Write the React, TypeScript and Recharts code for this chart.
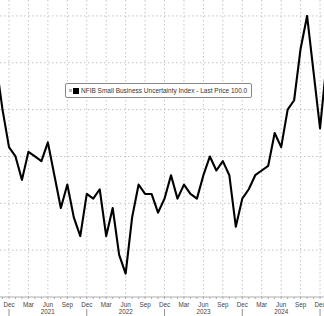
import React from 'react';
import { LineChart, Line, XAxis, YAxis, CartesianGrid } from 'recharts';

// monthly readings, Oct 2020 .. Jan 2025
const months = [
  'Oct 20', 'Nov 20', 'Dec 20',
  'Jan 21', 'Feb 21', 'Mar 21', 'Apr 21', 'May 21', 'Jun 21', 'Jul 21', 'Aug 21', 'Sep 21', 'Oct 21', 'Nov 21', 'Dec 21',
  'Jan 22', 'Feb 22', 'Mar 22', 'Apr 22', 'May 22', 'Jun 22', 'Jul 22', 'Aug 22', 'Sep 22', 'Oct 22', 'Nov 22', 'Dec 22',
  'Jan 23', 'Feb 23', 'Mar 23', 'Apr 23', 'May 23', 'Jun 23', 'Jul 23', 'Aug 23', 'Sep 23', 'Oct 23', 'Nov 23', 'Dec 23',
  'Jan 24', 'Feb 24', 'Mar 24', 'Apr 24', 'May 24', 'Jun 24', 'Jul 24', 'Aug 24', 'Sep 24', 'Oct 24', 'Nov 24', 'Dec 24',
  'Jan 25',
];

const uncertainty = [
  100, 90, 82,
  80, 75, 81, 80, 79, 83, 76, 69, 74, 67, 63, 72,
  71, 73, 63, 69, 59, 55, 67, 74, 72, 72, 68, 71,
  76, 71, 74, 72, 71, 76, 80, 77, 79, 76, 65, 71,
  73, 76, 77, 78, 85, 82, 90, 92, 103, 110, 98, 86,
  100,
];

const monthNames = ['Dec', 'Mar', 'Jun', 'Sep'];
const years = ['2021', '2022', '2023', '2024'];
const gridLevels = [60, 70, 80, 90, 100, 110];

// x index: 0 = Dec 2020
const data = months.map((label, i) => ({ label, t: i - 2, value: uncertainty[i] }));
const monthTicks = data.map((d) => d.t).filter((t) => t >= -1 && t <= 48);
const quarterTicks = monthTicks.filter((t) => t >= 0 && t % 3 === 0);

const FONT = '"Liberation Sans", Arial, sans-serif';

function MonthTick(props: any) {
  const { x, y, payload } = props;
  const t = payload.value;
  const isQuarter = t >= 0 && t % 3 === 0;
  const q = ((t % 12) + 12) % 12 / 3;
  const yearIdx = Math.floor(t / 12);
  return (
    <g>
      <line x1={x} x2={x} y1={y} y2={y + 2} stroke="#999" strokeWidth={0.8} />
      {isQuarter && (
        <text x={x} y={y + 10} textAnchor="middle" fontSize={6.3} fill="#444" fontFamily={FONT}>
          {monthNames[q]}
        </text>
      )}
      {isQuarter && q === 2 && years[yearIdx] && (
        <text x={x} y={y + 16.5} textAnchor="middle" fontSize={6.3} fill="#444" fontFamily={FONT}>
          {years[yearIdx]}
        </text>
      )}
      {isQuarter && q === 0 && (
        <line x1={x} x2={x} y1={y + 12} y2={y + 19} stroke="#777" strokeWidth={0.8} />
      )}
    </g>
  );
}

export default function App() {
  return (
    <div style={{ position: 'fixed', left: 0, top: 0, width: 324, height: 316, background: '#fff' }}>
      <LineChart width={324} height={316} data={data} margin={{ top: 0, right: 0, left: 0, bottom: 0 }}>
        <CartesianGrid
          stroke="#c4c4c4"
          strokeDasharray="1.5 2.5"
          horizontalValues={gridLevels}
          verticalValues={quarterTicks}
        />
        <XAxis
          type="number"
          dataKey="t"
          domain={[-1.389, 48.61]}
          allowDataOverflow
          ticks={monthTicks}
          interval={0}
          tickLine={false}
          tickSize={0}
          tickMargin={0}
          tick={<MonthTick />}
          height={19}
          axisLine={{ stroke: '#999', strokeWidth: 0.8 }}
        />
        <YAxis hide domain={[50, 113.4]} allowDataOverflow />
        <Line
          type="linear"
          dataKey="value"
          stroke="#000"
          strokeWidth={2.1}
          strokeLinejoin="round"
          dot={false}
          activeDot={false}
          isAnimationActive={false}
        />
      </LineChart>
      <div
        style={{
          position: 'absolute',
          left: 65,
          top: 83,
          height: 13,
          padding: '0 4px 0 3px',
          border: '1px solid #888',
          borderRadius: 2,
          background: '#fff',
          display: 'flex',
          alignItems: 'center',
          fontFamily: FONT,
          fontSize: 6.5,
          color: '#333',
          whiteSpace: 'nowrap',
        }}
      >
        <span style={{ width: 3, height: 3, background: '#bbb', marginRight: 1 }} />
        <span style={{ width: 6, height: 6, background: '#000', marginRight: 2 }} />
        NFIB Small Business Uncertainty Index - Last Price 100.0
      </div>
    </div>
  );
}
